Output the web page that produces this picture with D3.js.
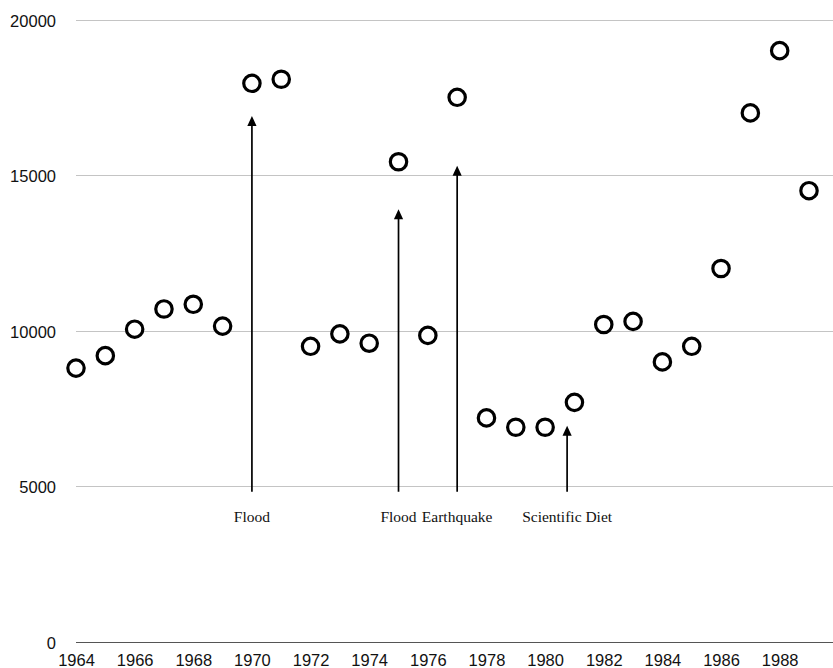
<!DOCTYPE html>
<html>
<head>
<meta charset="utf-8">
<script src="https://cdn.jsdelivr.net/npm/d3@7/dist/d3.min.js"></script>
<style>
  html, body { margin: 0; padding: 0; background: #fff; }
  svg { display: block; }
</style>
</head>
<body>
<script>
// ---- Data ----
const years = [1964,1965,1966,1967,1968,1969,1970,1971,1972,1973,1974,1975,1976,1977,1978,1979,1980,1981,1982,1983,1984,1985,1986,1987,1988,1989];
const values = [8800,9200,10050,10700,10850,10150,17950,18080,9500,9900,9600,15430,9850,17500,7200,6900,6900,7700,10200,10300,9000,9500,12000,17000,19000,14500];
const yTicks = [0,5000,10000,15000,20000];
const xTicks = [1964,1966,1968,1970,1972,1974,1976,1978,1980,1982,1984,1986,1988];
const eventYears = [1970, 1975, 1977, 1980.75];
const eventLabels = ["Flood", "Flood", "Earthquake", "Scientific Diet"];
const eventTips = [16900, 13900, 15300, 6950];
const eventBase = 4830;

// ---- Layout ----
const W = 833, H = 668;
const svg = d3.select("body").append("svg").attr("width", W).attr("height", H);

const x = d3.scaleLinear().domain([1964, 1989]).range([76, 809]);
const y = d3.scaleLinear().domain([0, 20000]).range([642, 19.5]);

// Y axis with gridlines
const yAxis = d3.axisLeft(y).tickValues(yTicks).tickFormat(d3.format("d"))
  .tickSize(-(W - 76)).tickPadding(20);
const gy = svg.append("g").attr("transform", "translate(76,0)").call(yAxis);
gy.select(".domain").remove();
gy.selectAll(".tick line")
  .attr("stroke", d => d === 0 ? "#555" : "#c4c4c4")
  .attr("stroke-width", d => d === 0 ? 1.6 : 1)
  .attr("shape-rendering", "crispEdges");
gy.selectAll(".tick text")
  .attr("font-family", "'Liberation Sans', Arial, Helvetica, sans-serif")
  .attr("font-size", 16.5).attr("fill", "#111").attr("dy", "0.4em");

// X axis labels
const xAxis = d3.axisBottom(x).tickValues(xTicks).tickFormat(d3.format("d")).tickSize(0);
const gx = svg.append("g").attr("transform", "translate(0,642)").call(xAxis);
gx.select(".domain").remove();
gx.selectAll(".tick text")
  .attr("font-family", "'Liberation Sans', Arial, Helvetica, sans-serif")
  .attr("font-size", 16.5).attr("fill", "#111")
  .attr("y", 24).attr("dy", null);

// Event arrows
const events = eventYears.map((yr, i) => ({ yr, label: eventLabels[i], tip: eventTips[i] }));
const ev = svg.append("g").selectAll("g").data(events).join("g");
ev.append("line")
  .attr("x1", d => x(d.yr)).attr("x2", d => x(d.yr))
  .attr("y1", y(eventBase)).attr("y2", d => y(d.tip) + 8)
  .attr("stroke", "#000").attr("stroke-width", 1.7);
ev.append("path")
  .attr("d", d => {
    const cx = x(d.yr), ty = y(d.tip);
    return `M${cx},${ty} L${cx - 4.6},${ty + 10} L${cx + 4.6},${ty + 10} Z`;
  })
  .attr("fill", "#000");
ev.append("text")
  .attr("x", d => x(d.yr)).attr("y", 522)
  .attr("text-anchor", "middle")
  .attr("font-family", "'Liberation Serif', 'Times New Roman', Times, serif")
  .attr("font-size", 15.5).attr("fill", "#111")
  .text(d => d.label);

// Points
svg.append("g").selectAll("circle")
  .data(years.map((yr, i) => ({ yr, v: values[i] })))
  .join("circle")
  .attr("cx", d => x(d.yr)).attr("cy", d => y(d.v))
  .attr("r", 8.2)
  .attr("fill", "#fff").attr("stroke", "#000").attr("stroke-width", 3.2);
</script>
</body>
</html>
